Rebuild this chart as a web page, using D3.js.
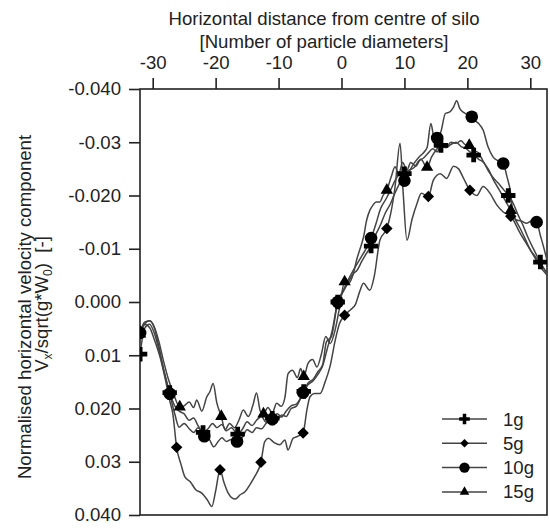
<!DOCTYPE html>
<html><head><meta charset="utf-8">
<script src="https://cdn.jsdelivr.net/npm/d3@7/dist/d3.min.js"></script>
<style>
html,body{margin:0;padding:0;background:#fff;}
svg{display:block;}
text{font-family:"Liberation Sans",Arial,sans-serif;fill:#222;}
</style></head>
<body>
<svg id="chart" width="550" height="529"></svg>
<script>
// ---------- data ----------
const xTicks = [-30, -20, -10, 0, 10, 20, 30];
const xTickLabels = ["-30", "-20", "-10", "0", "10", "20", "30"];
const yTicks = [-0.04, -0.03, -0.02, -0.01, 0, 0.01, 0.02, 0.03, 0.04];
const yTickLabels = ["-0.040", "-0.03", "-0.020", "-0.01", "0.000", "0.01", "0.020", "0.03", "0.040"];
const seriesNames = ["1g", "5g", "10g", "15g"];

const line1g = [[-32,0.0098],[-31.3,0.005],[-30.5,0.0042],[-29.7,0.006],[-29,0.009],[-28.3,0.0125],[-27.3,0.017],[-26.5,0.0195],[-25.8,0.0205],[-25,0.021],[-24.2,0.0222],[-23.5,0.0218],[-22.8,0.0232],[-22,0.0245],[-21.2,0.0238],[-20.5,0.0228],[-19.8,0.0236],[-19,0.023],[-18.3,0.0242],[-17.5,0.0236],[-16.5,0.0248],[-15.7,0.0238],[-15,0.0225],[-14.2,0.0232],[-13.5,0.0222],[-12.7,0.0215],[-12,0.0226],[-11,0.0218],[-10.2,0.021],[-9.5,0.0216],[-8.8,0.0205],[-8,0.0195],[-7.2,0.0192],[-6.5,0.018],[-6,0.0168],[-5.3,0.0155],[-4.5,0.0148],[-3.7,0.0135],[-3,0.012],[-2.2,0.0085],[-1.5,0.0055],[-0.6,0.0],[0.2,-0.0018],[1,-0.0035],[1.8,-0.0052],[2.5,-0.006],[3.3,-0.0078],[4,-0.0092],[4.7,-0.0105],[5.5,-0.0128],[6.2,-0.0145],[7,-0.0168],[7.8,-0.0185],[8.5,-0.0205],[9.2,-0.0222],[10,-0.0241],[10.8,-0.0248],[11.5,-0.0252],[12.3,-0.0265],[13,-0.027],[13.8,-0.028],[14.5,-0.0288],[15.2,-0.0282],[15.8,-0.0294],[16.6,-0.029],[17.4,-0.0296],[18.2,-0.03],[19,-0.0292],[19.8,-0.0288],[20.4,-0.0282],[21,-0.0276],[21.8,-0.0268],[22.6,-0.0262],[23.4,-0.0245],[24.2,-0.0232],[25,-0.0222],[25.7,-0.0212],[26.5,-0.02],[27.3,-0.0185],[28,-0.0165],[28.8,-0.0145],[29.6,-0.0122],[30.4,-0.0102],[31,-0.0088],[31.6,-0.0075],[32.2,-0.0062],[32.9,-0.005]];
const marks1g = [-32,-27.3,-22,-16.5,-11,-6,-0.6,4.7,10,15.8,21,26.5,31.6];

const line5g = [[-32,0.0055],[-31.3,0.0042],[-30.5,0.0048],[-29.7,0.0072],[-28.8,0.0105],[-28,0.0145],[-27.3,0.0185],[-26.8,0.021],[-26.2,0.0273],[-25.5,0.0305],[-24.9,0.0328],[-24,0.0338],[-23.2,0.0352],[-22.2,0.0359],[-21.3,0.0372],[-20.6,0.0384],[-20,0.0355],[-19.3,0.0315],[-18.7,0.0338],[-18,0.0359],[-17.4,0.0368],[-16.9,0.037],[-16.1,0.0362],[-15.3,0.0356],[-14.5,0.0342],[-13.8,0.0328],[-12.8,0.0301],[-12.2,0.0262],[-11.6,0.0256],[-10.7,0.0264],[-9.8,0.0268],[-9,0.0259],[-8.5,0.0278],[-7.7,0.0256],[-6.9,0.0252],[-6.1,0.0246],[-5.5,0.0203],[-5,0.0178],[-4.3,0.0172],[-3.4,0.0172],[-2.6,0.015],[-1.8,0.012],[-1,0.0072],[-0.3,0.004],[0.5,0.0025],[1.4,0.0015],[2.2,0.0005],[2.9,-0.002],[3.5,-0.0035],[4.5,-0.0022],[5.2,-0.0048],[6.1,-0.0116],[7.2,-0.0138],[7.8,-0.0165],[8.5,-0.0215],[9.3,-0.0298],[9.8,-0.0205],[10.4,-0.0116],[11.2,-0.0155],[12,-0.0185],[12.7,-0.0204],[13.8,-0.0198],[14.6,-0.0229],[15.7,-0.0241],[16.7,-0.0232],[17.8,-0.0255],[18.6,-0.025],[19.4,-0.0232],[20.4,-0.021],[21.5,-0.02],[22.5,-0.0217],[23.6,-0.0204],[24.7,-0.0182],[25.7,-0.0169],[26.9,-0.0161],[28.4,-0.0129],[30,-0.0098],[31.6,-0.0066],[32.9,-0.0047]];
const marks5g = [-32,-26.2,-19.3,-12.8,-6.1,0.5,7.2,13.8,20.4,26.9];

const line10g = [[-32,0.0058],[-31.3,0.0038],[-30.5,0.0035],[-29.7,0.005],[-29,0.0085],[-28.3,0.0125],[-27.3,0.0172],[-26.5,0.021],[-25.8,0.0235],[-25,0.0228],[-24.2,0.0238],[-23.5,0.0245],[-22.8,0.0236],[-21.8,0.0252],[-21,0.0258],[-20.3,0.0272],[-19.6,0.0262],[-19,0.0255],[-18.3,0.0262],[-17.5,0.0258],[-16.6,0.0262],[-15.8,0.0255],[-15,0.024],[-14.2,0.0245],[-13.5,0.0236],[-12.7,0.0238],[-12,0.0228],[-11,0.022],[-10.2,0.0222],[-9.5,0.0212],[-8.8,0.0215],[-8,0.02],[-7.2,0.0196],[-6.1,0.017],[-5.3,0.0152],[-4.5,0.0145],[-3.7,0.013],[-3,0.0118],[-2.4,0.0075],[-1.6,0.0065],[-0.6,0.0],[0.2,-0.002],[1,-0.004],[1.8,-0.0058],[2.5,-0.0072],[3.3,-0.0088],[4,-0.0102],[4.7,-0.012],[5.5,-0.0148],[6.2,-0.0175],[7,-0.0192],[7.8,-0.021],[8.5,-0.0228],[9.2,-0.0238],[10,-0.0228],[10.8,-0.0246],[11.5,-0.026],[12.3,-0.0272],[13,-0.028],[13.6,-0.029],[14.2,-0.0335],[14.7,-0.031],[15.2,-0.0308],[15.8,-0.032],[16.5,-0.0354],[17.2,-0.0357],[17.8,-0.0366],[18.3,-0.0378],[18.8,-0.0363],[19.4,-0.0356],[20,-0.0352],[20.7,-0.0348],[21.3,-0.034],[21.8,-0.0335],[22.5,-0.0323],[23.3,-0.0291],[24.1,-0.0272],[24.9,-0.0265],[25.7,-0.026],[26.3,-0.0235],[26.8,-0.021],[27.2,-0.0172],[27.8,-0.0154],[28.6,-0.0152],[29.4,-0.0148],[30.2,-0.0152],[31,-0.015],[31.6,-0.0125],[32.1,-0.0104],[32.9,-0.0066]];
const marks10g = [-32,-27.3,-21.8,-16.6,-11,-6.1,-0.6,4.7,10,15.2,20.7,25.7,31];

const line15g = [[-32,0.006],[-31.3,0.0042],[-30.5,0.0035],[-29.8,0.0045],[-29,0.0075],[-28.3,0.011],[-27.5,0.0145],[-26.7,0.0172],[-25.7,0.0197],[-25,0.0195],[-24.2,0.0188],[-23.5,0.0198],[-23,0.0184],[-22.2,0.0205],[-21.4,0.0178],[-20.9,0.0168],[-20.4,0.0153],[-19.8,0.019],[-19.1,0.0215],[-18.5,0.024],[-17.8,0.0228],[-17,0.0236],[-16.3,0.0222],[-15.6,0.0203],[-14.8,0.0215],[-14.1,0.0195],[-13.5,0.0171],[-12.9,0.0205],[-12.4,0.021],[-11.7,0.0198],[-11,0.0208],[-10.3,0.019],[-9.6,0.0196],[-9,0.018],[-8.5,0.0135],[-7.8,0.0128],[-7,0.0142],[-6.5,0.0125],[-6,0.014],[-5.3,0.0115],[-4.6,0.0108],[-3.9,0.0122],[-3.2,0.0098],[-2.5,0.0065],[-1.8,0.0078],[-1,0.0052],[-0.3,0.001],[0.5,-0.0038],[1.2,-0.0036],[1.9,-0.0054],[2.4,-0.0079],[2.9,-0.0098],[3.5,-0.0122],[4,-0.0154],[4.5,-0.0172],[5,-0.0182],[5.5,-0.0188],[6.1,-0.0188],[6.6,-0.02],[7.2,-0.021],[7.9,-0.0235],[8.5,-0.0254],[9.1,-0.024],[9.7,-0.0262],[10.4,-0.0248],[11,-0.0262],[11.8,-0.0255],[12.6,-0.0268],[13.6,-0.0253],[14.3,-0.0272],[15,-0.0285],[15.8,-0.0295],[16.6,-0.029],[17.4,-0.03],[18.2,-0.0298],[19,-0.0303],[19.6,-0.0296],[20.3,-0.0294],[21,-0.0285],[21.8,-0.028],[22.6,-0.0262],[23.4,-0.0248],[24.2,-0.0228],[25,-0.0212],[25.8,-0.0195],[26.9,-0.0172],[27.6,-0.0155],[28.4,-0.0138],[29.2,-0.0118],[30,-0.0098],[30.8,-0.0085],[31.6,-0.0072],[32.4,-0.0058],[32.9,-0.0048]];
const marks15g = [-32,-25.7,-19.1,-12.4,-6,0.5,7.2,13.6,20.3,26.9];

// ---------- layout ----------
const svg = d3.select("#chart");
const plot = {left: 140, right: 547, top: 89, bottom: 515};
const x = d3.scaleLinear().domain([-30, 30]).range([152.7, 530.3]);
const y = d3.scaleLinear().domain([-0.04, 0.04]).range([plot.top, plot.bottom]);
const FONT = 18.6;

svg.append("defs").append("clipPath").attr("id", "clip")
  .append("rect").attr("x", plot.left).attr("y", plot.top - 10)
  .attr("width", plot.right - plot.left).attr("height", plot.bottom - plot.top + 20);

// axes
const xAxis = d3.axisTop(x).tickValues(xTicks).tickFormat((d, i) => xTickLabels[i]).tickSize(11).tickPadding(9);
const gx = svg.append("g").attr("transform", `translate(0,${plot.top})`).call(xAxis);
const yAxis = d3.axisLeft(y).tickValues(yTicks).tickFormat((d, i) => yTickLabels[i]).tickSize(11).tickPadding(8);
const gy = svg.append("g").attr("transform", `translate(${plot.left},0)`).call(yAxis);
[gx, gy].forEach(g => {
  g.select(".domain").remove();
  g.selectAll(".tick line").attr("stroke", "#222").attr("stroke-width", 1.6);
  g.selectAll(".tick text").attr("font-size", FONT).attr("fill", "#222")
    .attr("font-family", "'Liberation Sans', Arial, sans-serif");
});

// frame
svg.append("rect").attr("x", plot.left).attr("y", plot.top)
  .attr("width", plot.right - plot.left).attr("height", plot.bottom - plot.top)
  .attr("fill", "none").attr("stroke", "#222").attr("stroke-width", 1.6);

// titles
svg.append("text").attr("x", 324).attr("y", 25).attr("text-anchor", "middle")
  .attr("font-size", FONT).text("Horizontal distance from centre of silo");
svg.append("text").attr("x", 324).attr("y", 48).attr("text-anchor", "middle")
  .attr("font-size", FONT).text("[Number of particle diameters]");

svg.append("text").attr("transform", "translate(31,307) rotate(-90)")
  .attr("text-anchor", "middle").attr("font-size", FONT)
  .text("Normalised horizontal velocity component");
const yt2 = svg.append("text").attr("transform", "translate(48,304) rotate(-90)")
  .attr("text-anchor", "middle").attr("font-size", FONT)
  .attr("xml:space", "preserve").style("white-space", "pre");
yt2.append("tspan").text("V");
yt2.append("tspan").attr("font-size", 12).attr("dy", 4).text("x");
yt2.append("tspan").attr("dy", -4).text("/sqrt(g*W");
yt2.append("tspan").attr("font-size", 12).attr("dy", 4).text("0");
yt2.append("tspan").attr("dy", -4).text(")  [-]");

// series
const symPlus = d3.symbol().type(d3.symbolCross);
const symCircle = d3.symbol().type(d3.symbolCircle);
const symTri = d3.symbol().type(d3.symbolTriangle);
const symDiamond = d3.symbol().type(d3.symbolSquare);
const series = [
  {name: seriesNames[0], line: line1g, marks: marks1g, sym: symPlus, size: 115, legSize: 62, rot: 0},
  {name: seriesNames[1], line: line5g, marks: marks5g, sym: symDiamond, size: 66, legSize: 36, rot: 45},
  {name: seriesNames[2], line: line10g, marks: marks10g, sym: symCircle, size: 125, legSize: 85, rot: 0},
  {name: seriesNames[3], line: line15g, marks: marks15g, sym: symTri, size: 66, legSize: 40, rot: 0}
];

const lineGen = d3.line().x(d => x(d[0])).y(d => y(d[1])).curve(d3.curveMonotoneX);
const gData = svg.append("g").attr("clip-path", "url(#clip)");
series.forEach(s => {
  gData.append("path").datum(s.line).attr("d", lineGen)
    .attr("fill", "none").attr("stroke", "#444").attr("stroke-width", 1.5);
});
series.forEach(s => {
  const pts = s.marks.map(mx => s.line.find(p => Math.abs(p[0] - mx) < 1e-9));
  gData.selectAll(null).data(pts).enter().append("path")
    .attr("d", s.sym.size(s.size)())
    .attr("transform", d => `translate(${x(d[0])},${y(d[1])}) rotate(${s.rot})`)
    .attr("fill", "#000");
});

// legend
const leg = svg.append("g");
series.forEach((s, i) => {
  const ly = 419 + i * 24.3;
  leg.append("line").attr("x1", 442).attr("x2", 487).attr("y1", ly).attr("y2", ly)
    .attr("stroke", "#444").attr("stroke-width", 1.5);
  leg.append("path").attr("d", s.sym.size(s.legSize)())
    .attr("transform", `translate(464.5,${ly}) rotate(${s.rot})`).attr("fill", "#000");
  leg.append("text").attr("x", 503).attr("y", ly).attr("dy", "0.35em")
    .attr("font-size", FONT).text(s.name);
});
</script>
</body></html>
